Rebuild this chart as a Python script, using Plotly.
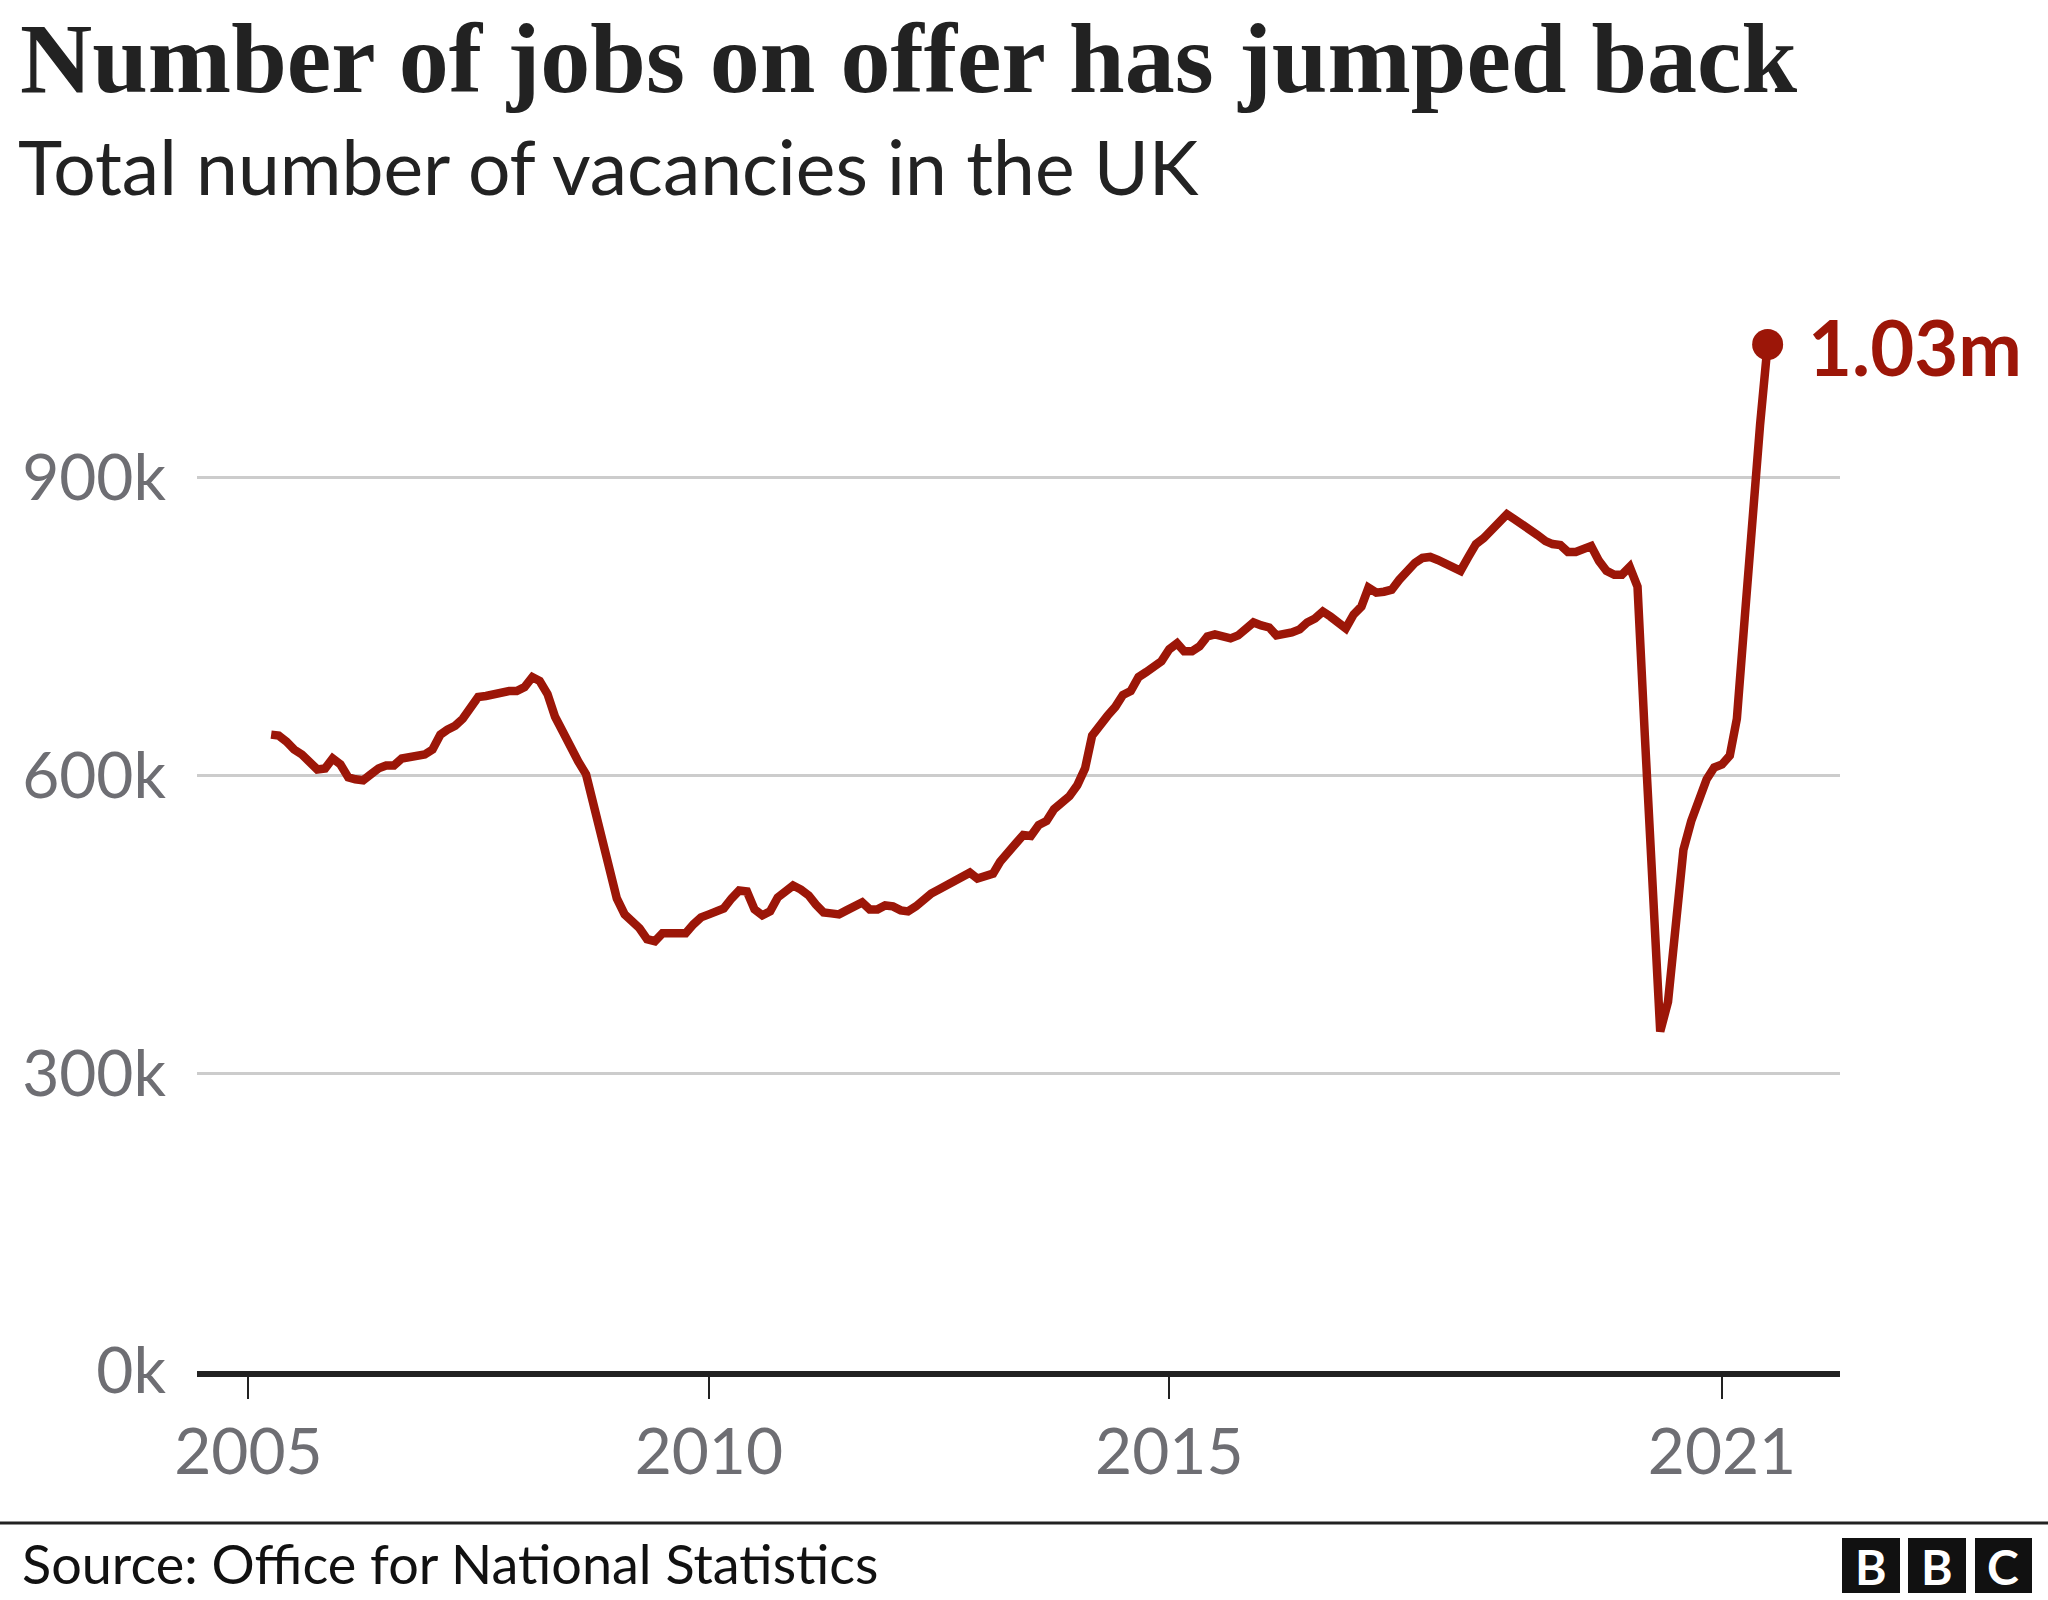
import pandas as pd
import plotly.graph_objects as go

# ---------------- data ----------------
start_month = "2005-04-01"   # first plotted month; one point per month
vacancies_k = [
    641, 640, 634, 626, 621, 612, 606, 607, 617, 611, 598, 596,
    595, 601, 607, 610, 610, 617, 618, 618, 621, 626, 641, 646,
    650, 657, 669, 679, 680, 682, 685, 685, 685, 689, 699, 695,
    682, 659, 644, 627, 614, 601, 572, 538, 505, 476, 460, 453,
    446, 435, 433, 441, 441, 441, 441, 450, 457, 460, 463, 466,
    476, 484, 483, 465, 459, 463, 477, 482, 489, 485, 479, 470,
    462, 461, 460, 464, 467, 472, 465, 465, 469, 468, 464, 463,
    468, 475, 481, 485, 489, 494, 498, 502, 496, 499, 501, 513,
    521, 531, 540, 539, 550, 554, 566, 572, 579, 590, 607, 640,
    652, 660, 669, 681, 685, 699, 704, 709, 715, 727, 733, 725,
    725, 730, 740, 742, 741, 738, 741, 748, 754, 751, 749, 741,
    742, 744, 747, 754, 758, 765, 760, 754, 748, 762, 770, 789,
    784, 785, 787, 797, 807, 814, 819, 820, 817, 813, 809, 806,
    820, 833, 839, 847, 855, 863, 858, 853, 849, 842, 836, 833,
    832, 825, 825, 827, 831, 816, 806, 802, 802, 810, 790, 640,
    478, 342, 372, 440, 525, 554, 574, 596, 608, 611, 620, 657,
    758, 862, 953, 1034,
]
months = pd.date_range(start_month, periods=len(vacancies_k), freq="MS")

x_tick_vals = ["2005-01-01", "2010-01-01", "2015-01-01", "2021-01-01"]
x_tick_text = ["2005", "2010", "2015", "2021"]
y_tick_vals = [0, 300, 600, 900]
y_tick_text = ["0k", "300k", "600k", "900k"]
x_range = ["2004-06-11", "2022-04-14"]
y_range = [0, 1100]

title_text = "Number of jobs on offer has jumped back"
subtitle_text = "Total number of vacancies in the UK"
source_text = "Source: Office for National Statistics"
latest_label = "1.03m"
logo_letters = ["B", "B", "C"]

# ---------------- styling ----------------
W, H = 2048, 1600
ML, MR, MT, MB = 197, 208, 279, 229
PW, PH = W - ML - MR, H - MT - MB
RED = "#9c1608"
GREY_TXT = "#6e6e73"
SANS = "Lato, 'Open Sans', sans-serif"
SERIF = "'Liberation Serif', 'DejaVu Serif', serif"


def px_x(px):
    return (px - ML) / PW


def px_y(py):
    return (H - MB - py) / PH


fig = go.Figure()
fig.add_trace(go.Scatter(
    x=months, y=vacancies_k, mode="lines",
    line=dict(color=RED, width=8.5, shape="linear"),
    hoverinfo="skip", showlegend=False,
))
fig.add_trace(go.Scatter(
    x=[months[-1]], y=[vacancies_k[-1]], mode="markers",
    marker=dict(color=RED, size=31),
    hoverinfo="skip", showlegend=False, cliponaxis=False,
))

annotations = [
    dict(x=months[-1], y=vacancies_k[-1], xref="x", yref="y",
         text=f"<b>{latest_label}</b>", showarrow=False,
         xanchor="left", yanchor="middle", xshift=38, yshift=-2,
         font=dict(family=SANS, size=76, color=RED)),
    dict(x=px_x(18), y=px_y(58), xref="paper", yref="paper",
         text=f"<b>{title_text}</b>", showarrow=False,
         xanchor="left", yanchor="middle",
         font=dict(family=SERIF, size=100, color="#222222")),
    dict(x=px_x(16), y=px_y(166), xref="paper", yref="paper",
         text=subtitle_text, showarrow=False,
         xanchor="left", yanchor="middle",
         font=dict(family=SANS, size=75, color="#222222")),
    dict(x=px_x(20), y=px_y(1563), xref="paper", yref="paper",
         text=source_text, showarrow=False,
         xanchor="left", yanchor="middle",
         font=dict(family=SANS, size=54, color="#111111")),
]

shapes = [
    dict(type="line", xref="paper", yref="paper",
         x0=px_x(0), x1=px_x(W), y0=px_y(1523), y1=px_y(1523),
         line=dict(color="#222222", width=3)),
]
logo_boxes = [(1842, 1900), (1908, 1966), (1975, 2032)]
for (x0, x1), letter in zip(logo_boxes, logo_letters):
    shapes.append(dict(type="rect", xref="paper", yref="paper",
                       x0=px_x(x0), x1=px_x(x1), y0=px_y(1593), y1=px_y(1538),
                       fillcolor="#111111", line=dict(width=0)))
    annotations.append(dict(x=px_x((x0 + x1) / 2), y=px_y(1566),
                            xref="paper", yref="paper", text=f"<b>{letter}</b>",
                            showarrow=False, xanchor="center", yanchor="middle",
                            font=dict(family=SANS, size=48, color="white")))

fig.update_layout(
    width=W, height=H,
    margin=dict(l=ML, r=MR, t=MT, b=MB, pad=0),
    paper_bgcolor="white", plot_bgcolor="white",
    showlegend=False,
    annotations=annotations, shapes=shapes,
    xaxis=dict(
        type="date", range=x_range,
        tickmode="array", tickvals=x_tick_vals, ticktext=x_tick_text,
        showgrid=False, zeroline=False,
        showline=True, linecolor="#222222", linewidth=6,
        ticks="outside", ticklen=22, tickwidth=2, tickcolor="#222222",
        ticklabelstandoff=-2,
        tickfont=dict(family=SANS, size=64, color=GREY_TXT),
        fixedrange=True,
    ),
    yaxis=dict(
        range=y_range,
        tickmode="array", tickvals=y_tick_vals, ticktext=y_tick_text,
        showgrid=True, gridcolor="#cccccc", gridwidth=2.5,
        zeroline=False, showline=False, ticks="",
        ticklabelstandoff=30,
        tickfont=dict(family=SANS, size=64, color=GREY_TXT),
        fixedrange=True,
    ),
)

fig.write_html("out.html", config={"displayModeBar": False},
               post_script="document.body.style.margin='0';document.body.style.overflow='hidden';")
